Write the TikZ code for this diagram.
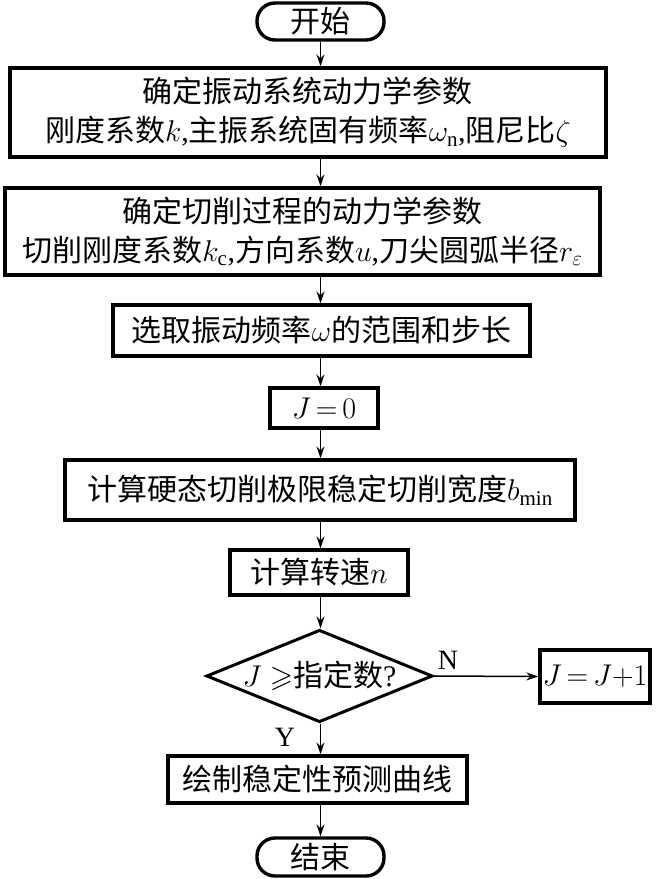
\RequirePackage{fix-cm}
\documentclass[tikz,border=0pt]{standalone}
\usepackage{amssymb}
\usepackage{fontspec}
\setmainfont{Liberation Serif}
\newfontfamily\cjk{Noto Sans CJK SC}
\usetikzlibrary{shapes.geometric,arrows.meta}
\begin{document}
\begin{tikzpicture}[x=1pt,y=-1pt,
  every node/.style={font=\fontsize{30}{39}\selectfont},
  box/.style={draw,line width=3.4pt,inner sep=0pt,align=center},
  term/.style={draw,line width=3.4pt,rounded corners=18pt,inner sep=0pt,minimum width=127pt,minimum height=37pt},
  arr/.style={line width=1.5pt,-{Stealth[length=12pt,width=8pt,inset=4pt]}},
  lab/.style={inner sep=0pt,font=\fontsize{28}{30}\selectfont}]
\useasboundingbox[fill=white] (0,0) rectangle (660,879);
\coordinate (sp) at (320.5,0);
\node[term] (start) at (320.5,21.5) {{\cjk 开始}};
\node[box,minimum width=596pt,minimum height=89pt] (b1) at (308,112.5)
  {{\cjk 确定振动系统动力学参数}\\{\cjk 刚度系数}$k$,{\cjk 主振系统固有频率}$\omega_{\mathrm{n}}$,{\cjk 阻尼比}$\zeta$};
\node[box,minimum width=595pt,minimum height=87pt] (b2) at (302.5,231.5)
  {{\cjk 确定切削过程的动力学参数}\\{\cjk 切削刚度系数}$k_{\mathrm{c}}$,{\cjk 方向系数}$u$,{\cjk 刀尖圆弧半径}$r_{\varepsilon}$};
\node[box,minimum width=417pt,minimum height=51pt] (b3) at (321.5,330.5)
  {{\cjk 选取振动频率}$\omega${\cjk 的范围和步长}};
\node[box,minimum width=108pt,minimum height=40pt] (j0) at (324,408) {$J\,{=}\,0$};
\node[box,minimum width=510pt,minimum height=60pt] (b4) at (320,490)
  {{\cjk 计算硬态切削极限稳定切削宽度}$b_{\min}$};
\node[box,minimum width=178pt,minimum height=45pt] (b5) at (319,572.5)
  {{\cjk 计算转速}$n$};
\node[draw,diamond,aspect=2.45,line width=3pt,inner sep=0pt,minimum width=225pt,minimum height=92pt] (dia) at (319.5,676)
  {$J\geqslant${\cjk 指定数}?};
\node[box,minimum width=110pt,minimum height=53pt] (jp) at (595,676.5) {$J\,{=}\,J{+}1$};
\node[box,minimum width=299pt,minimum height=47pt] (b6) at (317.5,779.5)
  {{\cjk 绘制稳定性预测曲线}};
\node[term,minimum height=38pt] (end) at (320.5,857) {{\cjk 结束}};
\node[lab] (nl) at (448,660) {N};
\node[lab] (yl) at (285,737) {Y};
\draw[arr] (start.south -| sp) -- (b1.north -| sp);
\draw[arr] (b1.south -| sp) -- (b2.north -| sp);
\draw[arr] (b2.south -| sp) -- (b3.north -| sp);
\draw[arr] (b3.south -| sp) -- (j0.north -| sp);
\draw[arr] (j0.south -| sp) -- (b4.north -| sp);
\draw[arr] (b4.south -| sp) -- (b5.north -| sp);
\draw[arr] (b5.south -| sp) -- (dia.north -| sp);
\draw[arr] (dia.south -| sp) -- (b6.north -| sp);
\draw[arr] (b6.south -| sp) -- (end.north -| sp);
\draw[arr] (dia.east) -- (jp.west);
\end{tikzpicture}
\end{document}
